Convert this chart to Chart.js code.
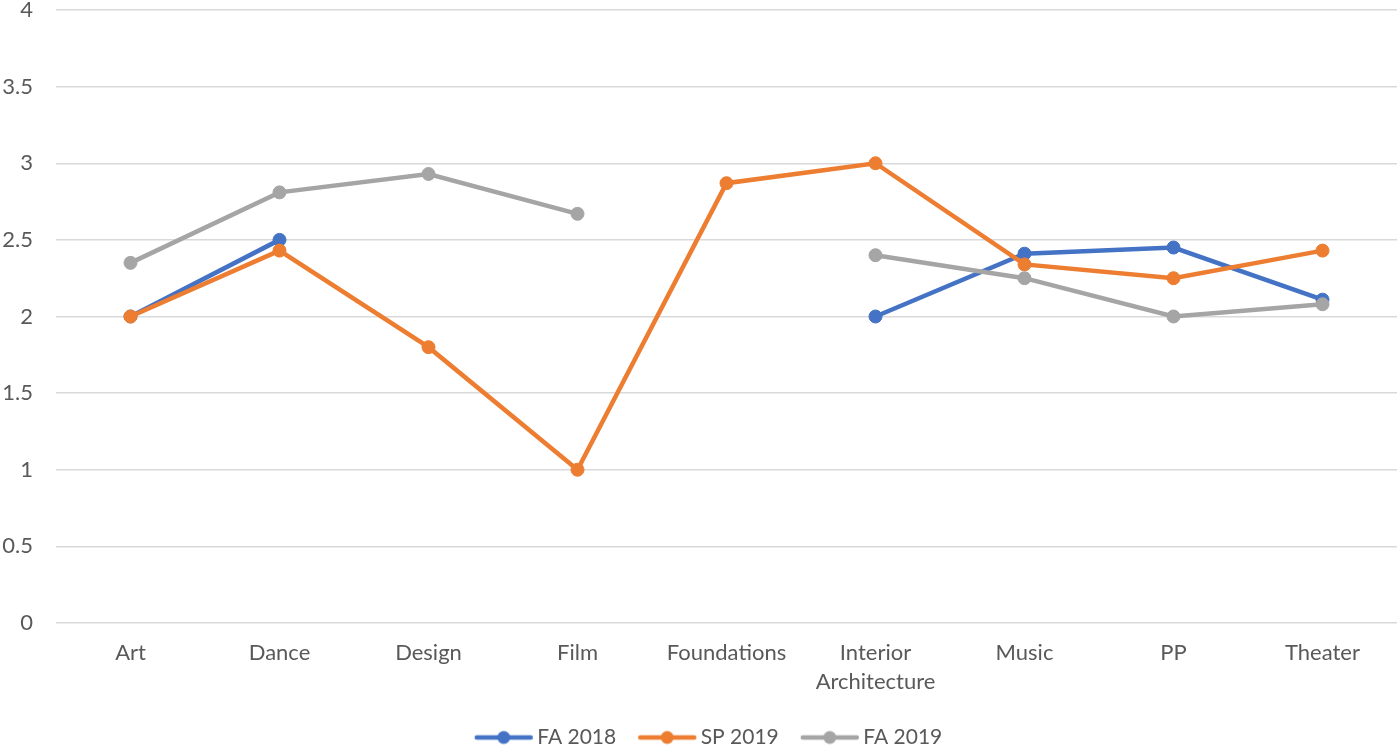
<!DOCTYPE html>
<html>
<head>
<meta charset="utf-8">
<script src="https://cdn.jsdelivr.net/npm/chart.js@4"></script>
<style>
  html, body { margin: 0; padding: 0; background: #fff; }
  #wrap { width: 1398px; height: 749px; }
</style>
</head>
<body>
<div id="wrap"><canvas id="chart"></canvas></div>
<script>
const categories = ["Art", "Dance", "Design", "Film", "Foundations", ["Interior", "Architecture"], "Music", "PP", "Theater"];
const fa2018 = [2, 2.5, null, null, null, 2, 2.41, 2.45, 2.11];
const sp2019 = [2, 2.43, 1.8, 1, 2.87, 3, 2.34, 2.25, 2.43];
const fa2019 = [2.35, 2.81, 2.93, 2.67, null, 2.4, 2.25, 2, 2.08];
const seriesNames = ["FA 2018", "SP 2019", "FA 2019"];
const seriesColors = ["#4472C4", "#ED7D31", "#A5A5A5"];

const textColor = "#595959";
const fontFamily = "Lato, 'Liberation Sans', sans-serif";

// legend icon: a short line with a dot in the middle (shifted right so the text sits close)
function legendIcon(color) {
  const c = document.createElement("canvas");
  c.width = 76; c.height = 16;
  const ctx = c.getContext("2d");
  ctx.strokeStyle = color;
  ctx.lineWidth = 4.5;
  ctx.lineCap = "round";
  ctx.beginPath();
  ctx.moveTo(14, 8); ctx.lineTo(68, 8);
  ctx.stroke();
  ctx.fillStyle = color;
  ctx.beginPath();
  ctx.arc(41, 8, 6.5, 0, Math.PI * 2);
  ctx.fill();
  return c;
}

function makeSet(i, values, order) {
  return {
    label: seriesNames[i],
    data: values,
    borderColor: seriesColors[i],
    backgroundColor: seriesColors[i],
    borderWidth: 4.5,
    pointRadius: 6.5,
    pointBorderWidth: 1,
    pointHoverRadius: 6.5,
    spanGaps: false,
    tension: 0,
    order: order
  };
}

// nudge the legend a bit lower and to the right, like the original
const legendNudge = {
  id: "legendNudge",
  afterLayout(chart) {
    const lg = chart.legend;
    lg.top += 9; lg.bottom += 9;
    lg.left += 10; lg.right += 10;
  }
};

new Chart(document.getElementById("chart"), {
  type: "line",
  data: {
    labels: categories,
    datasets: [makeSet(0, fa2018, 3), makeSet(1, sp2019, 2), makeSet(2, fa2019, 1)]
  },
  plugins: [legendNudge],
  options: {
    responsive: true,
    maintainAspectRatio: false,
    animation: false,
    layout: { autoPadding: false, padding: { top: 0, right: 1, bottom: 0 } },
    plugins: {
      tooltip: { enabled: false },
      legend: {
        position: "bottom",
        labels: {
          usePointStyle: true,
          pointStyleWidth: 52,
          padding: 22,
          color: textColor,
          font: { family: fontFamily, size: 21 },
          generateLabels: chart => chart.data.datasets.map((ds, i) => ({
            text: ds.label,
            pointStyle: legendIcon(seriesColors[i]),
            fillStyle: seriesColors[i],
            strokeStyle: seriesColors[i],
            fontColor: textColor,
            lineWidth: 0,
            hidden: false,
            datasetIndex: i
          }))
        }
      }
    },
    scales: {
      x: {
        offset: true,
        afterFit: s => {
          s.height = 73;
          s.paddingLeft = 0;
          s.paddingRight = 0;
        },
        grid: { display: false, drawTicks: false },
        border: { display: false },
        ticks: {
          color: textColor,
          padding: 15,
          maxRotation: 0,
          autoSkip: false,
          font: { family: fontFamily, size: 22, lineHeight: 1.32 }
        }
      },
      y: {
        min: 0,
        max: 4,
        afterFit: s => {
          s.width = 56;
          s.paddingTop = 10;
          s.paddingBottom = 0;
        },
        grid: { color: "#D9D9D9", lineWidth: 1.5, drawTicks: false },
        border: { display: false },
        ticks: {
          stepSize: 0.5,
          padding: 23,
          color: textColor,
          font: { family: fontFamily, size: 22 },
          callback: v => String(v)
        }
      }
    }
  }
});
</script>
</body>
</html>
